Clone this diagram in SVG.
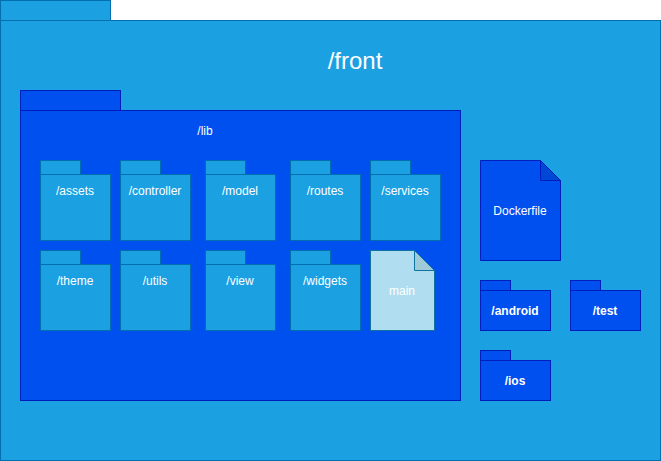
<svg xmlns="http://www.w3.org/2000/svg" width="661" height="461" viewBox="0 0 661 461">
<style>
.cyan{fill:#1ba1e2;stroke:#006eaf;stroke-width:1}
.cobalt{fill:#0050ef;stroke:#001dbc;stroke-width:1}
.file{fill:#b1ddf0;stroke:#10739e;stroke-width:1}
text{font-family:"Liberation Sans",Arial,sans-serif;fill:#ffffff;text-anchor:middle;font-size:12px}
.b{font-weight:bold}
</style>
<rect width="661" height="461" fill="#ffffff"/>
<g id="front">
<rect class="cyan" x="0.5" y="0.5" width="110" height="20"/>
<rect class="cyan" x="0.5" y="20.5" width="660" height="440"/>
<text x="355" y="69" style="font-size:24px">/front</text>
</g>
<g id="lib">
<rect class="cobalt" x="20.5" y="90.5" width="100" height="20"/>
<rect class="cobalt" x="20.5" y="110.5" width="440" height="290"/>
<text x="205" y="135">/lib</text>
</g>
<g id="assets">
<rect class="cyan" x="40.5" y="160.5" width="40" height="14"/>
<rect class="cyan" x="40.5" y="174.5" width="70" height="66"/>
<text x="75" y="195">/assets</text>
</g>
<g id="controller">
<rect class="cyan" x="120.5" y="160.5" width="40" height="14"/>
<rect class="cyan" x="120.5" y="174.5" width="70" height="66"/>
<text x="155" y="195">/controller</text>
</g>
<g id="model">
<rect class="cyan" x="205.5" y="160.5" width="40" height="14"/>
<rect class="cyan" x="205.5" y="174.5" width="70" height="66"/>
<text x="240" y="195">/model</text>
</g>
<g id="routes">
<rect class="cyan" x="290.5" y="160.5" width="40" height="14"/>
<rect class="cyan" x="290.5" y="174.5" width="70" height="66"/>
<text x="325" y="195">/routes</text>
</g>
<g id="services">
<rect class="cyan" x="370.5" y="160.5" width="40" height="14"/>
<rect class="cyan" x="370.5" y="174.5" width="70" height="66"/>
<text x="405" y="195">/services</text>
</g>
<g id="theme">
<rect class="cyan" x="40.5" y="250.5" width="40" height="14"/>
<rect class="cyan" x="40.5" y="264.5" width="70" height="66"/>
<text x="75" y="285">/theme</text>
</g>
<g id="utils">
<rect class="cyan" x="120.5" y="250.5" width="40" height="14"/>
<rect class="cyan" x="120.5" y="264.5" width="70" height="66"/>
<text x="155" y="285">/utils</text>
</g>
<g id="view">
<rect class="cyan" x="205.5" y="250.5" width="40" height="14"/>
<rect class="cyan" x="205.5" y="264.5" width="70" height="66"/>
<text x="240" y="285">/view</text>
</g>
<g id="widgets">
<rect class="cyan" x="290.5" y="250.5" width="40" height="14"/>
<rect class="cyan" x="290.5" y="264.5" width="70" height="66"/>
<text x="325" y="285">/widgets</text>
</g>
<g id="main">
<path class="file" d="M370.5 250.5H414.5L434.5 270.5V330.5H370.5Z"/>
<path d="M414.5 250.5L434.5 270.5H414.5Z" fill="#9ecad9" stroke="#10739e"/>
<text x="402" y="295">main</text>
</g>
<g id="dockerfile">
<path class="cobalt" d="M480.5 160.5H540.5L560.5 180.5V260.5H480.5Z"/>
<path d="M540.5 160.5L560.5 180.5H540.5Z" fill="#0047d6" stroke="#001dbc"/>
<text x="520" y="215">Dockerfile</text>
</g>
<g id="android">
<rect class="cobalt" x="480.5" y="280.5" width="30" height="10"/>
<rect class="cobalt" x="480.5" y="290.5" width="70" height="40"/>
<text class="b" x="515" y="315">/android</text>
</g>
<g id="test">
<rect class="cobalt" x="570.5" y="280.5" width="30" height="10"/>
<rect class="cobalt" x="570.5" y="290.5" width="70" height="40"/>
<text class="b" x="605" y="315">/test</text>
</g>
<g id="ios">
<rect class="cobalt" x="480.5" y="350.5" width="30" height="10"/>
<rect class="cobalt" x="480.5" y="360.5" width="70" height="40"/>
<text class="b" x="515" y="385">/ios</text>
</g>
<g id="connectors"/>
</svg>
